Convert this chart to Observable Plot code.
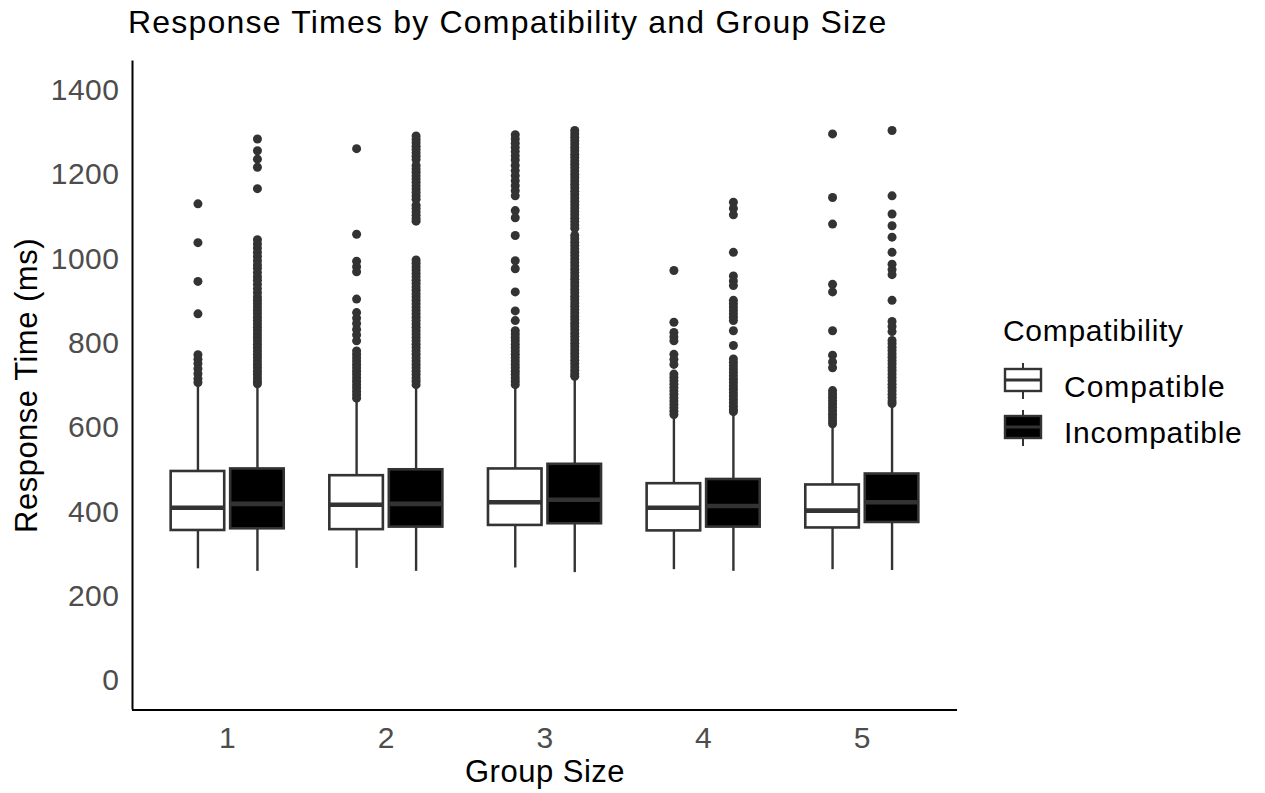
<!DOCTYPE html>
<html>
<head>
<meta charset="utf-8">
<script src="https://cdn.jsdelivr.net/npm/d3@7"></script>
<script src="https://cdn.jsdelivr.net/npm/@observablehq/plot@0.6"></script>
<style>
  body { margin: 0; background: #fff; font-family: "Liberation Sans", Arial, sans-serif; }
  #wrap { position: relative; width: 1265px; height: 793px; }
  .t { position: absolute; line-height: 1; white-space: nowrap; color: #000; }
</style>
</head>
<body>
<div id="wrap">
  <div style="height:50px; position:relative;">
    <div class="t" style="left:128px; top:5.9px; font-size:32px; letter-spacing:1.2px;">Response Times by Compatibility and Group Size</div>
  </div>
  <div id="chart"></div>
  <div id="legend"></div>
</div>
<script>
// ---- data ----
const groups = [1, 2, 3, 4, 5];
const compatLevels = ["Compatible", "Incompatible"];
const yTicks = [0, 200, 400, 600, 800, 1000, 1200, 1400];

// Compatible box statistics (ms)
const lowC  = [265, 266, 267, 263, 263];
const q1C   = [356, 358, 368, 355, 362];
const medC  = [410, 417, 423, 410, 403];
const q3C   = [496, 486, 502, 467, 464];
const highC = [702, 665, 698, 627, 607];

// Incompatible box statistics (ms)
const lowI  = [259, 259, 256, 259, 261];
const q1I   = [360, 364, 372, 364, 375];
const medI  = [419, 419, 429, 414, 423];
const q3I   = [502, 500, 513, 477, 490];
const highI = [702, 698, 718, 635, 654];

// Outliers, Compatible
const outC = [
  [1131, 1039, 947, 870, 773, 762, 752, 740, 728, 716, 707],
  [1262, 1059, 995, 982, 970, 905, 873, 860, 847, 833, 820, 806, 782, 774, 766, 758, 750, 742, 734, 726, 718, 710, 702, 694, 686, 678, 670],
  [1295, 1285, 1275, 1265, 1255, 1245, 1235, 1222, 1210, 1198, 1186, 1174, 1162, 1150, 1115, 1098, 1056, 996, 977, 922, 877, 854,
   830, 822, 814, 806, 798, 790, 782, 774, 766, 758, 750, 742, 734, 726, 718, 710, 702],
  [973, 850, 826, 815, 806, 774, 762, 750, 727, 719, 711, 703, 695, 687, 679, 671, 663, 655, 647, 639, 631],
  [1297, 1146, 1083, 940, 922, 830, 772, 756, 742, 688, 680, 672, 664, 656, 648, 640, 632, 624, 616, 609]
];

// Outliers, Incompatible
const outI = [
  [1285, 1257, 1237, 1218, 1167, 1046, 1036, 1026, 1016, 1006, 996, 986, 978, 968, 958, 950, 940, 930, 920, 910, 902, 894, 886,
   878, 870, 862, 854, 846, 838, 830, 822, 814, 806, 798, 790, 782, 774, 766, 758, 750, 742, 734, 726, 718, 710, 704],
  [1292, 1284, 1276, 1268, 1260, 1252, 1244, 1236, 1222, 1214, 1206, 1198, 1190, 1182, 1174, 1166, 1158, 1150, 1142, 1128, 1120,
   1112, 1104, 1096, 1090, 998, 990, 982, 974, 966, 958, 950, 942, 934, 926, 918, 910, 902, 894, 886, 878, 870, 862, 854, 846,
   838, 830, 822, 814, 806, 798, 790, 782, 774, 766, 758, 750, 742, 734, 726, 718, 710, 702],
  [1305, 1297, 1289, 1281, 1273, 1265, 1257, 1249, 1241, 1233, 1225, 1217, 1209, 1201, 1193, 1185, 1177, 1169, 1161, 1153, 1145,
   1137, 1129, 1121, 1113, 1105, 1097, 1089, 1081, 1073, 1056, 1048, 1040, 1032, 1024, 1016, 1008, 1000, 992, 984, 976, 968, 960,
   952, 944, 936, 928, 920, 912, 904, 896, 888, 880, 872, 864, 856, 848, 840, 832, 824, 816, 808, 800, 792, 784, 776, 768, 760,
   752, 744, 736, 728, 722],
  [1135, 1120, 1105, 1016, 960, 948, 937, 902, 894, 886, 878, 870, 862, 854, 830, 795, 763, 755, 747, 739, 731, 723, 715, 707,
   699, 691, 683, 675, 667, 659, 651, 643, 638],
  [1305, 1150, 1107, 1079, 1052, 1016, 988, 975, 963, 902, 852, 840, 828, 807, 799, 791, 783, 775, 767, 759, 751, 743, 735, 727,
   719, 711, 703, 695, 687, 679, 671, 663, 657]
];

// ---- build tables ----
const dodge = 0.1875;   // half of the dodge width
const halfBox = 0.16875; // half box width
const boxes = groups.flatMap((g, i) => [
  {g, c: compatLevels[0], pos: g - dodge, lo: lowC[i], q1: q1C[i], med: medC[i], q3: q3C[i], hi: highC[i]},
  {g, c: compatLevels[1], pos: g + dodge, lo: lowI[i], q1: q1I[i], med: medI[i], q3: q3I[i], hi: highI[i]}
]);
const outliers = groups.flatMap((g, i) => [
  ...outC[i].map(v => ({g, c: compatLevels[0], pos: g - dodge, v})),
  ...outI[i].map(v => ({g, c: compatLevels[1], pos: g + dodge, v}))
]);
const fillOf = {Compatible: "#ffffff", Incompatible: "#000000"};

const chart = Plot.plot({
  width: 965,
  height: 743,
  marginLeft: 132,
  marginRight: 8,
  marginTop: 10.5,
  marginBottom: 83.5,
  style: {fontFamily: "'Liberation Sans', Arial, sans-serif", letterSpacing: "0.5px", background: "#fff"},
  x: {domain: [0.4, 5.6]},
  y: {domain: [-70, 1470]},
  marks: [
    Plot.axisY({ticks: yTicks, tickSize: 0, tickPadding: 13, fontSize: 30, fill: "#4d4d4d", label: null, tickFormat: d => String(d)}),
    Plot.axisX({ticks: groups, tickSize: 0, tickPadding: 17, fontSize: 30, fill: "#4d4d4d", label: null, tickFormat: d => String(d)}),
    Plot.text(["Response Time (ms)"], {frameAnchor: "left", dx: -105, rotate: -90, fontSize: 31, textAnchor: "middle", lineAnchor: "middle", fill: "#000"}),
    Plot.text(["Group Size"], {frameAnchor: "bottom", dy: 62.5, fontSize: 31, textAnchor: "middle", lineAnchor: "middle", fill: "#000"}),
    Plot.ruleX(boxes, {x: "pos", y1: "lo", y2: "q1", stroke: "#333", strokeWidth: 2.4}),
    Plot.ruleX(boxes, {x: "pos", y1: "q3", y2: "hi", stroke: "#333", strokeWidth: 2.4}),
    Plot.rect(boxes, {x1: d => d.pos - halfBox, x2: d => d.pos + halfBox, y1: "q1", y2: "q3", fill: d => fillOf[d.c], stroke: "#333", strokeWidth: 2.6}),
    Plot.ruleY(boxes, {y: "med", x1: d => d.pos - halfBox, x2: d => d.pos + halfBox, stroke: "#333", strokeWidth: 4.6}),
    Plot.dot(outliers, {x: "pos", y: "v", r: 4.5, fill: "#333", stroke: "none"}),
    Plot.ruleX([0.4], {stroke: "#000", strokeWidth: 2}),
    Plot.ruleY([-70], {stroke: "#000", strokeWidth: 2})
  ]
});
document.getElementById("chart").appendChild(chart);

// ---- legend ----
const legend = document.getElementById("legend");
const glyph = (fill, top) => `
  <svg style="position:absolute; left:1003px; top:${top}px;" width="42" height="36" viewBox="0 0 42 36">
    <line x1="20" x2="20" y1="0" y2="36" stroke="#333" stroke-width="2"/>
    <rect x="2" y="6" width="36" height="22" fill="${fill}" stroke="#333" stroke-width="2.4"/>
    <line x1="2" x2="38" y1="17" y2="17" stroke="#333" stroke-width="3"/>
  </svg>`;
legend.innerHTML = `
  <div class="t" style="left:1003px; top:316.3px; font-size:30px; letter-spacing:0.7px;">Compatibility</div>
  ${glyph(fillOf[compatLevels[0]], 363)}
  <div class="t" style="left:1064px; top:371.9px; font-size:30px; letter-spacing:1px;">${compatLevels[0]}</div>
  ${glyph(fillOf[compatLevels[1]], 410)}
  <div class="t" style="left:1064px; top:417.6px; font-size:30px; letter-spacing:0.7px;">${compatLevels[1]}</div>
`;
</script>
</body>
</html>
